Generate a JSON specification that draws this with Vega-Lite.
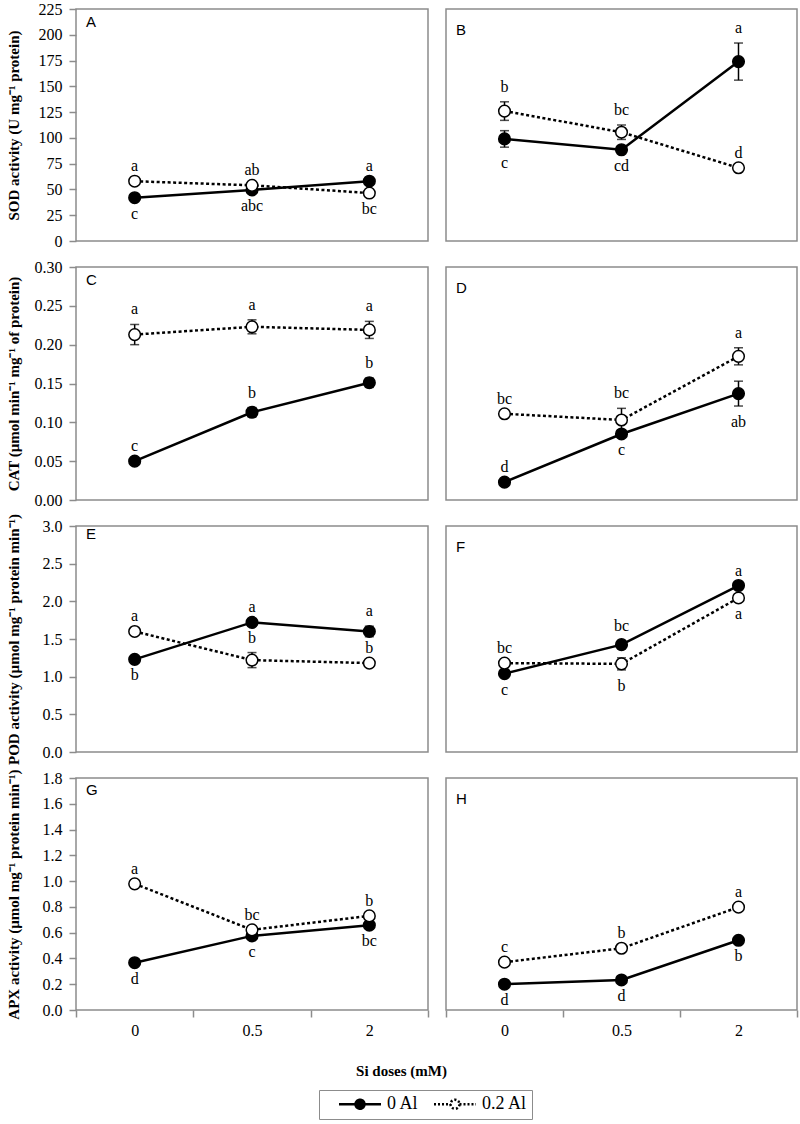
{
"$schema": "https://vega.github.io/schema/vega-lite/v6.json",
"padding": {"left": 5, "top": 0, "right": 4, "bottom": 4},
"bounds": "flush",
"columns": 2,
"spacing": {"row": 26, "column": 18},
"datasets": {"d": [
{"p":"A","si":"0","s":"0 Al","v":42,"lo":42,"hi":42,"lab":"c","pos":"below"},
{"p":"A","si":"0.5","s":"0 Al","v":49.5,"lo":49.5,"hi":49.5,"lab":"abc","pos":"below"},
{"p":"A","si":"2","s":"0 Al","v":58,"lo":58,"hi":58,"lab":"a","pos":"above"},
{"p":"A","si":"0","s":"0.2 Al","v":58,"lo":58,"hi":58,"lab":"a","pos":"above"},
{"p":"A","si":"0.5","s":"0.2 Al","v":54,"lo":54,"hi":54,"lab":"ab","pos":"above"},
{"p":"A","si":"2","s":"0.2 Al","v":46.5,"lo":46.5,"hi":46.5,"lab":"bc","pos":"below"},
{"p":"B","si":"0","s":"0 Al","v":99,"lo":91,"hi":107,"lab":"c","pos":"below"},
{"p":"B","si":"0.5","s":"0 Al","v":88.5,"lo":88.5,"hi":88.5,"lab":"cd","pos":"below"},
{"p":"B","si":"2","s":"0 Al","v":174,"lo":156,"hi":192,"lab":"a","pos":"above"},
{"p":"B","si":"0","s":"0.2 Al","v":126,"lo":117,"hi":135,"lab":"b","pos":"above"},
{"p":"B","si":"0.5","s":"0.2 Al","v":105.5,"lo":98.5,"hi":112.5,"lab":"bc","pos":"above"},
{"p":"B","si":"2","s":"0.2 Al","v":71,"lo":71,"hi":71,"lab":"d","pos":"above"},
{"p":"C","si":"0","s":"0 Al","v":0.05,"lo":0.05,"hi":0.05,"lab":"c","pos":"above"},
{"p":"C","si":"0.5","s":"0 Al","v":0.113,"lo":0.107,"hi":0.119,"lab":"b","pos":"above"},
{"p":"C","si":"2","s":"0 Al","v":0.151,"lo":0.145,"hi":0.157,"lab":"b","pos":"above"},
{"p":"C","si":"0","s":"0.2 Al","v":0.213,"lo":0.2,"hi":0.226,"lab":"a","pos":"above"},
{"p":"C","si":"0.5","s":"0.2 Al","v":0.223,"lo":0.214,"hi":0.232,"lab":"a","pos":"above"},
{"p":"C","si":"2","s":"0.2 Al","v":0.219,"lo":0.208,"hi":0.23,"lab":"a","pos":"above"},
{"p":"D","si":"0","s":"0 Al","v":0.023,"lo":0.023,"hi":0.023,"lab":"d","pos":"above"},
{"p":"D","si":"0.5","s":"0 Al","v":0.085,"lo":0.085,"hi":0.085,"lab":"c","pos":"below"},
{"p":"D","si":"2","s":"0 Al","v":0.137,"lo":0.121,"hi":0.153,"lab":"ab","pos":"below"},
{"p":"D","si":"0","s":"0.2 Al","v":0.111,"lo":0.111,"hi":0.111,"lab":"bc","pos":"above"},
{"p":"D","si":"0.5","s":"0.2 Al","v":0.103,"lo":0.088,"hi":0.118,"lab":"bc","pos":"above"},
{"p":"D","si":"2","s":"0.2 Al","v":0.185,"lo":0.174,"hi":0.196,"lab":"a","pos":"above"},
{"p":"E","si":"0","s":"0 Al","v":1.23,"lo":1.23,"hi":1.23,"lab":"b","pos":"below"},
{"p":"E","si":"0.5","s":"0 Al","v":1.72,"lo":1.72,"hi":1.72,"lab":"a","pos":"above"},
{"p":"E","si":"2","s":"0 Al","v":1.6,"lo":1.53,"hi":1.67,"lab":"a","pos":"above"},
{"p":"E","si":"0","s":"0.2 Al","v":1.6,"lo":1.6,"hi":1.6,"lab":"a","pos":"above"},
{"p":"E","si":"0.5","s":"0.2 Al","v":1.22,"lo":1.12,"hi":1.32,"lab":"b","pos":"above"},
{"p":"E","si":"2","s":"0.2 Al","v":1.18,"lo":1.18,"hi":1.18,"lab":"b","pos":"above"},
{"p":"F","si":"0","s":"0 Al","v":1.04,"lo":1.04,"hi":1.04,"lab":"c","pos":"below"},
{"p":"F","si":"0.5","s":"0 Al","v":1.425,"lo":1.37,"hi":1.48,"lab":"bc","pos":"above"},
{"p":"F","si":"2","s":"0 Al","v":2.21,"lo":2.21,"hi":2.21,"lab":"a","pos":"above"},
{"p":"F","si":"0","s":"0.2 Al","v":1.18,"lo":1.18,"hi":1.18,"lab":"bc","pos":"above"},
{"p":"F","si":"0.5","s":"0.2 Al","v":1.17,"lo":1.09,"hi":1.25,"lab":"b","pos":"below"},
{"p":"F","si":"2","s":"0.2 Al","v":2.045,"lo":2.045,"hi":2.045,"lab":"a","pos":"below"},
{"p":"G","si":"0","s":"0 Al","v":0.367,"lo":0.367,"hi":0.367,"lab":"d","pos":"below"},
{"p":"G","si":"0.5","s":"0 Al","v":0.575,"lo":0.575,"hi":0.575,"lab":"c","pos":"below"},
{"p":"G","si":"2","s":"0 Al","v":0.658,"lo":0.658,"hi":0.658,"lab":"bc","pos":"below"},
{"p":"G","si":"0","s":"0.2 Al","v":0.979,"lo":0.979,"hi":0.979,"lab":"a","pos":"above"},
{"p":"G","si":"0.5","s":"0.2 Al","v":0.622,"lo":0.622,"hi":0.622,"lab":"bc","pos":"above"},
{"p":"G","si":"2","s":"0.2 Al","v":0.73,"lo":0.73,"hi":0.73,"lab":"b","pos":"above"},
{"p":"H","si":"0","s":"0 Al","v":0.2,"lo":0.2,"hi":0.2,"lab":"d","pos":"below"},
{"p":"H","si":"0.5","s":"0 Al","v":0.233,"lo":0.233,"hi":0.233,"lab":"d","pos":"below"},
{"p":"H","si":"2","s":"0 Al","v":0.541,"lo":0.541,"hi":0.541,"lab":"b","pos":"below"},
{"p":"H","si":"0","s":"0.2 Al","v":0.371,"lo":0.371,"hi":0.371,"lab":"c","pos":"above"},
{"p":"H","si":"0.5","s":"0.2 Al","v":0.479,"lo":0.479,"hi":0.479,"lab":"b","pos":"above"},
{"p":"H","si":"2","s":"0.2 Al","v":0.798,"lo":0.798,"hi":0.798,"lab":"a","pos":"above"}
]},
"concat": [
{"width": 352, "height": 232, "title": "A", "data": {"name": "d"}, "transform": [{"filter": "datum.p === 'A'"}],
 "encoding": {"x": {"field": "si", "type": "ordinal", "sort": ["0","0.5","2"], "scale": {"type": "band", "paddingInner": 0, "paddingOuter": 0}, "axis": null}},
 "layer": [
  {"transform": [{"filter": "datum.s === '0 Al'"}], "mark": {"type": "line", "color": "black", "strokeWidth": 2.5}, "encoding": {"y": {"field": "v", "type": "quantitative", "scale": {"domain": [0,225]}, "axis": {"title": "SOD activity (U mg⁻¹ protein)", "values": [0,25,50,75,100,125,150,175,200,225], "titleX": -63, "titleBaseline": "middle"}}}},
  {"transform": [{"filter": "datum.s === '0.2 Al'"}], "mark": {"type": "line", "color": "black", "strokeWidth": 2.5, "strokeDash": [3,2.5]}, "encoding": {"y": {"field": "v", "type": "quantitative", "scale": {"domain": [0,225]}, "axis": {"title": "SOD activity (U mg⁻¹ protein)", "values": [0,25,50,75,100,125,150,175,200,225], "titleX": -63, "titleBaseline": "middle"}}}},
  {"transform": [{"filter": "datum.hi > datum.lo"}], "mark": {"type": "errorbar", "color": "black", "thickness": 1.5, "ticks": {"size": 9, "thickness": 1.5}}, "encoding": {"y": {"field": "lo", "type": "quantitative", "scale": {"domain": [0,225]}, "axis": {"title": "SOD activity (U mg⁻¹ protein)", "values": [0,25,50,75,100,125,150,175,200,225], "titleX": -63, "titleBaseline": "middle"}}, "y2": {"field": "hi"}}},
  {"mark": {"type": "point", "filled": true, "size": 135, "stroke": "black", "strokeWidth": 1.5, "opacity": 1}, "encoding": {"y": {"field": "v", "type": "quantitative", "scale": {"domain": [0,225]}, "axis": {"title": "SOD activity (U mg⁻¹ protein)", "values": [0,25,50,75,100,125,150,175,200,225], "titleX": -63, "titleBaseline": "middle"}}, "fill": {"field": "s", "type": "nominal", "scale": {"domain": ["0 Al","0.2 Al"], "range": ["black","white"]}, "legend": {"title": null, "encode": {"symbols": {"update": {"strokeDash": {"signal": "datum.value === '0.2 Al' ? [2,2] : [1,0]"}, "stroke": {"value": "black"}, "strokeWidth": {"value": 2.5}, "size": {"value": 100}, "opacity": {"value": 1}}}}}}}},
  {"transform": [{"filter": "datum.pos === 'above'"}], "mark": {"type": "text", "fontSize": 16, "dy": -10, "baseline": "alphabetic", "color": "black"}, "encoding": {"y": {"field": "hi", "type": "quantitative", "scale": {"domain": [0,225]}, "axis": {"title": "SOD activity (U mg⁻¹ protein)", "values": [0,25,50,75,100,125,150,175,200,225], "titleX": -63, "titleBaseline": "middle"}}, "text": {"field": "lab"}}},
  {"transform": [{"filter": "datum.pos === 'below'"}], "mark": {"type": "text", "fontSize": 16, "dy": 21, "baseline": "alphabetic", "color": "black"}, "encoding": {"y": {"field": "lo", "type": "quantitative", "scale": {"domain": [0,225]}, "axis": {"title": "SOD activity (U mg⁻¹ protein)", "values": [0,25,50,75,100,125,150,175,200,225], "titleX": -63, "titleBaseline": "middle"}}, "text": {"field": "lab"}}}
 ]},
{"width": 351, "height": 232, "title": "B", "data": {"name": "d"}, "transform": [{"filter": "datum.p === 'B'"}],
 "encoding": {"x": {"field": "si", "type": "ordinal", "sort": ["0","0.5","2"], "scale": {"type": "band", "paddingInner": 0, "paddingOuter": 0}, "axis": null}},
 "layer": [
  {"transform": [{"filter": "datum.s === '0 Al'"}], "mark": {"type": "line", "color": "black", "strokeWidth": 2.5}, "encoding": {"y": {"field": "v", "type": "quantitative", "scale": {"domain": [0,225]}, "axis": null}}},
  {"transform": [{"filter": "datum.s === '0.2 Al'"}], "mark": {"type": "line", "color": "black", "strokeWidth": 2.5, "strokeDash": [3,2.5]}, "encoding": {"y": {"field": "v", "type": "quantitative", "scale": {"domain": [0,225]}, "axis": null}}},
  {"transform": [{"filter": "datum.hi > datum.lo"}], "mark": {"type": "errorbar", "color": "black", "thickness": 1.5, "ticks": {"size": 9, "thickness": 1.5}}, "encoding": {"y": {"field": "lo", "type": "quantitative", "scale": {"domain": [0,225]}, "axis": null}, "y2": {"field": "hi"}}},
  {"mark": {"type": "point", "filled": true, "size": 135, "stroke": "black", "strokeWidth": 1.5, "opacity": 1}, "encoding": {"y": {"field": "v", "type": "quantitative", "scale": {"domain": [0,225]}, "axis": null}, "fill": {"field": "s", "type": "nominal", "scale": {"domain": ["0 Al","0.2 Al"], "range": ["black","white"]}, "legend": {"title": null, "encode": {"symbols": {"update": {"strokeDash": {"signal": "datum.value === '0.2 Al' ? [2,2] : [1,0]"}, "stroke": {"value": "black"}, "strokeWidth": {"value": 2.5}, "size": {"value": 100}, "opacity": {"value": 1}}}}}}}},
  {"transform": [{"filter": "datum.pos === 'above'"}], "mark": {"type": "text", "fontSize": 16, "dy": -10, "baseline": "alphabetic", "color": "black"}, "encoding": {"y": {"field": "hi", "type": "quantitative", "scale": {"domain": [0,225]}, "axis": null}, "text": {"field": "lab"}}},
  {"transform": [{"filter": "datum.pos === 'below'"}], "mark": {"type": "text", "fontSize": 16, "dy": 21, "baseline": "alphabetic", "color": "black"}, "encoding": {"y": {"field": "lo", "type": "quantitative", "scale": {"domain": [0,225]}, "axis": null}, "text": {"field": "lab"}}}
 ]},
{"width": 352, "height": 233, "title": "C", "data": {"name": "d"}, "transform": [{"filter": "datum.p === 'C'"}],
 "encoding": {"x": {"field": "si", "type": "ordinal", "sort": ["0","0.5","2"], "scale": {"type": "band", "paddingInner": 0, "paddingOuter": 0}, "axis": null}},
 "layer": [
  {"transform": [{"filter": "datum.s === '0 Al'"}], "mark": {"type": "line", "color": "black", "strokeWidth": 2.5}, "encoding": {"y": {"field": "v", "type": "quantitative", "scale": {"domain": [0,0.3]}, "axis": {"title": "CAT (µmol min⁻¹ mg⁻¹ of protein)", "values": [0,0.05,0.1,0.15,0.2,0.25,0.3], "format": ".2f", "titleX": -63, "titleBaseline": "middle"}}}},
  {"transform": [{"filter": "datum.s === '0.2 Al'"}], "mark": {"type": "line", "color": "black", "strokeWidth": 2.5, "strokeDash": [3,2.5]}, "encoding": {"y": {"field": "v", "type": "quantitative", "scale": {"domain": [0,0.3]}, "axis": {"title": "CAT (µmol min⁻¹ mg⁻¹ of protein)", "values": [0,0.05,0.1,0.15,0.2,0.25,0.3], "format": ".2f", "titleX": -63, "titleBaseline": "middle"}}}},
  {"transform": [{"filter": "datum.hi > datum.lo"}], "mark": {"type": "errorbar", "color": "black", "thickness": 1.5, "ticks": {"size": 9, "thickness": 1.5}}, "encoding": {"y": {"field": "lo", "type": "quantitative", "scale": {"domain": [0,0.3]}, "axis": {"title": "CAT (µmol min⁻¹ mg⁻¹ of protein)", "values": [0,0.05,0.1,0.15,0.2,0.25,0.3], "format": ".2f", "titleX": -63, "titleBaseline": "middle"}}, "y2": {"field": "hi"}}},
  {"mark": {"type": "point", "filled": true, "size": 135, "stroke": "black", "strokeWidth": 1.5, "opacity": 1}, "encoding": {"y": {"field": "v", "type": "quantitative", "scale": {"domain": [0,0.3]}, "axis": {"title": "CAT (µmol min⁻¹ mg⁻¹ of protein)", "values": [0,0.05,0.1,0.15,0.2,0.25,0.3], "format": ".2f", "titleX": -63, "titleBaseline": "middle"}}, "fill": {"field": "s", "type": "nominal", "scale": {"domain": ["0 Al","0.2 Al"], "range": ["black","white"]}, "legend": {"title": null, "encode": {"symbols": {"update": {"strokeDash": {"signal": "datum.value === '0.2 Al' ? [2,2] : [1,0]"}, "stroke": {"value": "black"}, "strokeWidth": {"value": 2.5}, "size": {"value": 100}, "opacity": {"value": 1}}}}}}}},
  {"transform": [{"filter": "datum.pos === 'above'"}], "mark": {"type": "text", "fontSize": 16, "dy": -10, "baseline": "alphabetic", "color": "black"}, "encoding": {"y": {"field": "hi", "type": "quantitative", "scale": {"domain": [0,0.3]}, "axis": {"title": "CAT (µmol min⁻¹ mg⁻¹ of protein)", "values": [0,0.05,0.1,0.15,0.2,0.25,0.3], "format": ".2f", "titleX": -63, "titleBaseline": "middle"}}, "text": {"field": "lab"}}},
  {"transform": [{"filter": "datum.pos === 'below'"}], "mark": {"type": "text", "fontSize": 16, "dy": 21, "baseline": "alphabetic", "color": "black"}, "encoding": {"y": {"field": "lo", "type": "quantitative", "scale": {"domain": [0,0.3]}, "axis": {"title": "CAT (µmol min⁻¹ mg⁻¹ of protein)", "values": [0,0.05,0.1,0.15,0.2,0.25,0.3], "format": ".2f", "titleX": -63, "titleBaseline": "middle"}}, "text": {"field": "lab"}}}
 ]},
{"width": 351, "height": 233, "title": "D", "data": {"name": "d"}, "transform": [{"filter": "datum.p === 'D'"}],
 "encoding": {"x": {"field": "si", "type": "ordinal", "sort": ["0","0.5","2"], "scale": {"type": "band", "paddingInner": 0, "paddingOuter": 0}, "axis": null}},
 "layer": [
  {"transform": [{"filter": "datum.s === '0 Al'"}], "mark": {"type": "line", "color": "black", "strokeWidth": 2.5}, "encoding": {"y": {"field": "v", "type": "quantitative", "scale": {"domain": [0,0.3]}, "axis": null}}},
  {"transform": [{"filter": "datum.s === '0.2 Al'"}], "mark": {"type": "line", "color": "black", "strokeWidth": 2.5, "strokeDash": [3,2.5]}, "encoding": {"y": {"field": "v", "type": "quantitative", "scale": {"domain": [0,0.3]}, "axis": null}}},
  {"transform": [{"filter": "datum.hi > datum.lo"}], "mark": {"type": "errorbar", "color": "black", "thickness": 1.5, "ticks": {"size": 9, "thickness": 1.5}}, "encoding": {"y": {"field": "lo", "type": "quantitative", "scale": {"domain": [0,0.3]}, "axis": null}, "y2": {"field": "hi"}}},
  {"mark": {"type": "point", "filled": true, "size": 135, "stroke": "black", "strokeWidth": 1.5, "opacity": 1}, "encoding": {"y": {"field": "v", "type": "quantitative", "scale": {"domain": [0,0.3]}, "axis": null}, "fill": {"field": "s", "type": "nominal", "scale": {"domain": ["0 Al","0.2 Al"], "range": ["black","white"]}, "legend": {"title": null, "encode": {"symbols": {"update": {"strokeDash": {"signal": "datum.value === '0.2 Al' ? [2,2] : [1,0]"}, "stroke": {"value": "black"}, "strokeWidth": {"value": 2.5}, "size": {"value": 100}, "opacity": {"value": 1}}}}}}}},
  {"transform": [{"filter": "datum.pos === 'above'"}], "mark": {"type": "text", "fontSize": 16, "dy": -10, "baseline": "alphabetic", "color": "black"}, "encoding": {"y": {"field": "hi", "type": "quantitative", "scale": {"domain": [0,0.3]}, "axis": null}, "text": {"field": "lab"}}},
  {"transform": [{"filter": "datum.pos === 'below'"}], "mark": {"type": "text", "fontSize": 16, "dy": 21, "baseline": "alphabetic", "color": "black"}, "encoding": {"y": {"field": "lo", "type": "quantitative", "scale": {"domain": [0,0.3]}, "axis": null}, "text": {"field": "lab"}}}
 ]},
{"width": 352, "height": 226, "title": "E", "data": {"name": "d"}, "transform": [{"filter": "datum.p === 'E'"}],
 "encoding": {"x": {"field": "si", "type": "ordinal", "sort": ["0","0.5","2"], "scale": {"type": "band", "paddingInner": 0, "paddingOuter": 0}, "axis": null}},
 "layer": [
  {"transform": [{"filter": "datum.s === '0 Al'"}], "mark": {"type": "line", "color": "black", "strokeWidth": 2.5}, "encoding": {"y": {"field": "v", "type": "quantitative", "scale": {"domain": [0,3]}, "axis": {"title": "POD activity (µmol mg⁻¹ protein min⁻¹)", "values": [0,0.5,1,1.5,2,2.5,3], "format": ".1f", "titleX": -63, "titleBaseline": "middle"}}}},
  {"transform": [{"filter": "datum.s === '0.2 Al'"}], "mark": {"type": "line", "color": "black", "strokeWidth": 2.5, "strokeDash": [3,2.5]}, "encoding": {"y": {"field": "v", "type": "quantitative", "scale": {"domain": [0,3]}, "axis": {"title": "POD activity (µmol mg⁻¹ protein min⁻¹)", "values": [0,0.5,1,1.5,2,2.5,3], "format": ".1f", "titleX": -63, "titleBaseline": "middle"}}}},
  {"transform": [{"filter": "datum.hi > datum.lo"}], "mark": {"type": "errorbar", "color": "black", "thickness": 1.5, "ticks": {"size": 9, "thickness": 1.5}}, "encoding": {"y": {"field": "lo", "type": "quantitative", "scale": {"domain": [0,3]}, "axis": {"title": "POD activity (µmol mg⁻¹ protein min⁻¹)", "values": [0,0.5,1,1.5,2,2.5,3], "format": ".1f", "titleX": -63, "titleBaseline": "middle"}}, "y2": {"field": "hi"}}},
  {"mark": {"type": "point", "filled": true, "size": 135, "stroke": "black", "strokeWidth": 1.5, "opacity": 1}, "encoding": {"y": {"field": "v", "type": "quantitative", "scale": {"domain": [0,3]}, "axis": {"title": "POD activity (µmol mg⁻¹ protein min⁻¹)", "values": [0,0.5,1,1.5,2,2.5,3], "format": ".1f", "titleX": -63, "titleBaseline": "middle"}}, "fill": {"field": "s", "type": "nominal", "scale": {"domain": ["0 Al","0.2 Al"], "range": ["black","white"]}, "legend": {"title": null, "encode": {"symbols": {"update": {"strokeDash": {"signal": "datum.value === '0.2 Al' ? [2,2] : [1,0]"}, "stroke": {"value": "black"}, "strokeWidth": {"value": 2.5}, "size": {"value": 100}, "opacity": {"value": 1}}}}}}}},
  {"transform": [{"filter": "datum.pos === 'above'"}], "mark": {"type": "text", "fontSize": 16, "dy": -10, "baseline": "alphabetic", "color": "black"}, "encoding": {"y": {"field": "hi", "type": "quantitative", "scale": {"domain": [0,3]}, "axis": {"title": "POD activity (µmol mg⁻¹ protein min⁻¹)", "values": [0,0.5,1,1.5,2,2.5,3], "format": ".1f", "titleX": -63, "titleBaseline": "middle"}}, "text": {"field": "lab"}}},
  {"transform": [{"filter": "datum.pos === 'below'"}], "mark": {"type": "text", "fontSize": 16, "dy": 21, "baseline": "alphabetic", "color": "black"}, "encoding": {"y": {"field": "lo", "type": "quantitative", "scale": {"domain": [0,3]}, "axis": {"title": "POD activity (µmol mg⁻¹ protein min⁻¹)", "values": [0,0.5,1,1.5,2,2.5,3], "format": ".1f", "titleX": -63, "titleBaseline": "middle"}}, "text": {"field": "lab"}}}
 ]},
{"width": 351, "height": 226, "title": "F", "data": {"name": "d"}, "transform": [{"filter": "datum.p === 'F'"}],
 "encoding": {"x": {"field": "si", "type": "ordinal", "sort": ["0","0.5","2"], "scale": {"type": "band", "paddingInner": 0, "paddingOuter": 0}, "axis": null}},
 "layer": [
  {"transform": [{"filter": "datum.s === '0 Al'"}], "mark": {"type": "line", "color": "black", "strokeWidth": 2.5}, "encoding": {"y": {"field": "v", "type": "quantitative", "scale": {"domain": [0,3]}, "axis": null}}},
  {"transform": [{"filter": "datum.s === '0.2 Al'"}], "mark": {"type": "line", "color": "black", "strokeWidth": 2.5, "strokeDash": [3,2.5]}, "encoding": {"y": {"field": "v", "type": "quantitative", "scale": {"domain": [0,3]}, "axis": null}}},
  {"transform": [{"filter": "datum.hi > datum.lo"}], "mark": {"type": "errorbar", "color": "black", "thickness": 1.5, "ticks": {"size": 9, "thickness": 1.5}}, "encoding": {"y": {"field": "lo", "type": "quantitative", "scale": {"domain": [0,3]}, "axis": null}, "y2": {"field": "hi"}}},
  {"mark": {"type": "point", "filled": true, "size": 135, "stroke": "black", "strokeWidth": 1.5, "opacity": 1}, "encoding": {"y": {"field": "v", "type": "quantitative", "scale": {"domain": [0,3]}, "axis": null}, "fill": {"field": "s", "type": "nominal", "scale": {"domain": ["0 Al","0.2 Al"], "range": ["black","white"]}, "legend": {"title": null, "encode": {"symbols": {"update": {"strokeDash": {"signal": "datum.value === '0.2 Al' ? [2,2] : [1,0]"}, "stroke": {"value": "black"}, "strokeWidth": {"value": 2.5}, "size": {"value": 100}, "opacity": {"value": 1}}}}}}}},
  {"transform": [{"filter": "datum.pos === 'above'"}], "mark": {"type": "text", "fontSize": 16, "dy": -10, "baseline": "alphabetic", "color": "black"}, "encoding": {"y": {"field": "hi", "type": "quantitative", "scale": {"domain": [0,3]}, "axis": null}, "text": {"field": "lab"}}},
  {"transform": [{"filter": "datum.pos === 'below'"}], "mark": {"type": "text", "fontSize": 16, "dy": 21, "baseline": "alphabetic", "color": "black"}, "encoding": {"y": {"field": "lo", "type": "quantitative", "scale": {"domain": [0,3]}, "axis": null}, "text": {"field": "lab"}}}
 ]},
{"width": 352, "height": 232, "title": "G", "data": {"name": "d"}, "transform": [{"filter": "datum.p === 'G'"}],
 "encoding": {"x": {"field": "si", "type": "ordinal", "sort": ["0","0.5","2"], "scale": {"type": "band", "paddingInner": 0, "paddingOuter": 0}, "axis": {"title": "Si doses (mM)", "titleX": 325, "titleY": 60, "titleBaseline": "middle", "tickBand": "extent", "labelAngle": 0, "labelPadding": 5}}},
 "layer": [
  {"transform": [{"filter": "datum.s === '0 Al'"}], "mark": {"type": "line", "color": "black", "strokeWidth": 2.5}, "encoding": {"y": {"field": "v", "type": "quantitative", "scale": {"domain": [0,1.8]}, "axis": {"title": "APX activity (µmol mg⁻¹ protein min⁻¹)", "values": [0,0.2,0.4,0.6,0.8,1,1.2,1.4,1.6,1.8], "format": ".1f", "titleX": -63, "titleBaseline": "middle"}}}},
  {"transform": [{"filter": "datum.s === '0.2 Al'"}], "mark": {"type": "line", "color": "black", "strokeWidth": 2.5, "strokeDash": [3,2.5]}, "encoding": {"y": {"field": "v", "type": "quantitative", "scale": {"domain": [0,1.8]}, "axis": {"title": "APX activity (µmol mg⁻¹ protein min⁻¹)", "values": [0,0.2,0.4,0.6,0.8,1,1.2,1.4,1.6,1.8], "format": ".1f", "titleX": -63, "titleBaseline": "middle"}}}},
  {"transform": [{"filter": "datum.hi > datum.lo"}], "mark": {"type": "errorbar", "color": "black", "thickness": 1.5, "ticks": {"size": 9, "thickness": 1.5}}, "encoding": {"y": {"field": "lo", "type": "quantitative", "scale": {"domain": [0,1.8]}, "axis": {"title": "APX activity (µmol mg⁻¹ protein min⁻¹)", "values": [0,0.2,0.4,0.6,0.8,1,1.2,1.4,1.6,1.8], "format": ".1f", "titleX": -63, "titleBaseline": "middle"}}, "y2": {"field": "hi"}}},
  {"mark": {"type": "point", "filled": true, "size": 135, "stroke": "black", "strokeWidth": 1.5, "opacity": 1}, "encoding": {"y": {"field": "v", "type": "quantitative", "scale": {"domain": [0,1.8]}, "axis": {"title": "APX activity (µmol mg⁻¹ protein min⁻¹)", "values": [0,0.2,0.4,0.6,0.8,1,1.2,1.4,1.6,1.8], "format": ".1f", "titleX": -63, "titleBaseline": "middle"}}, "fill": {"field": "s", "type": "nominal", "scale": {"domain": ["0 Al","0.2 Al"], "range": ["black","white"]}, "legend": {"title": null, "encode": {"symbols": {"update": {"strokeDash": {"signal": "datum.value === '0.2 Al' ? [2,2] : [1,0]"}, "stroke": {"value": "black"}, "strokeWidth": {"value": 2.5}, "size": {"value": 100}, "opacity": {"value": 1}}}}}}}},
  {"transform": [{"filter": "datum.pos === 'above'"}], "mark": {"type": "text", "fontSize": 16, "dy": -10, "baseline": "alphabetic", "color": "black"}, "encoding": {"y": {"field": "hi", "type": "quantitative", "scale": {"domain": [0,1.8]}, "axis": {"title": "APX activity (µmol mg⁻¹ protein min⁻¹)", "values": [0,0.2,0.4,0.6,0.8,1,1.2,1.4,1.6,1.8], "format": ".1f", "titleX": -63, "titleBaseline": "middle"}}, "text": {"field": "lab"}}},
  {"transform": [{"filter": "datum.pos === 'below'"}], "mark": {"type": "text", "fontSize": 16, "dy": 21, "baseline": "alphabetic", "color": "black"}, "encoding": {"y": {"field": "lo", "type": "quantitative", "scale": {"domain": [0,1.8]}, "axis": {"title": "APX activity (µmol mg⁻¹ protein min⁻¹)", "values": [0,0.2,0.4,0.6,0.8,1,1.2,1.4,1.6,1.8], "format": ".1f", "titleX": -63, "titleBaseline": "middle"}}, "text": {"field": "lab"}}}
 ]},
{"width": 351, "height": 232, "title": "H", "data": {"name": "d"}, "transform": [{"filter": "datum.p === 'H'"}],
 "encoding": {"x": {"field": "si", "type": "ordinal", "sort": ["0","0.5","2"], "scale": {"type": "band", "paddingInner": 0, "paddingOuter": 0}, "axis": {"title": null, "tickBand": "extent", "labelAngle": 0, "labelPadding": 5}}},
 "layer": [
  {"transform": [{"filter": "datum.s === '0 Al'"}], "mark": {"type": "line", "color": "black", "strokeWidth": 2.5}, "encoding": {"y": {"field": "v", "type": "quantitative", "scale": {"domain": [0,1.8]}, "axis": null}}},
  {"transform": [{"filter": "datum.s === '0.2 Al'"}], "mark": {"type": "line", "color": "black", "strokeWidth": 2.5, "strokeDash": [3,2.5]}, "encoding": {"y": {"field": "v", "type": "quantitative", "scale": {"domain": [0,1.8]}, "axis": null}}},
  {"transform": [{"filter": "datum.hi > datum.lo"}], "mark": {"type": "errorbar", "color": "black", "thickness": 1.5, "ticks": {"size": 9, "thickness": 1.5}}, "encoding": {"y": {"field": "lo", "type": "quantitative", "scale": {"domain": [0,1.8]}, "axis": null}, "y2": {"field": "hi"}}},
  {"mark": {"type": "point", "filled": true, "size": 135, "stroke": "black", "strokeWidth": 1.5, "opacity": 1}, "encoding": {"y": {"field": "v", "type": "quantitative", "scale": {"domain": [0,1.8]}, "axis": null}, "fill": {"field": "s", "type": "nominal", "scale": {"domain": ["0 Al","0.2 Al"], "range": ["black","white"]}, "legend": {"title": null, "encode": {"symbols": {"update": {"strokeDash": {"signal": "datum.value === '0.2 Al' ? [2,2] : [1,0]"}, "stroke": {"value": "black"}, "strokeWidth": {"value": 2.5}, "size": {"value": 100}, "opacity": {"value": 1}}}}}}}},
  {"transform": [{"filter": "datum.pos === 'above'"}], "mark": {"type": "text", "fontSize": 16, "dy": -10, "baseline": "alphabetic", "color": "black"}, "encoding": {"y": {"field": "hi", "type": "quantitative", "scale": {"domain": [0,1.8]}, "axis": null}, "text": {"field": "lab"}}},
  {"transform": [{"filter": "datum.pos === 'below'"}], "mark": {"type": "text", "fontSize": 16, "dy": 21, "baseline": "alphabetic", "color": "black"}, "encoding": {"y": {"field": "lo", "type": "quantitative", "scale": {"domain": [0,1.8]}, "axis": null}, "text": {"field": "lab"}}}
 ]}
],
"config": {
 "font": "Liberation Serif",
 "background": "white",
 "view": {"stroke": "#8c8c8c", "strokeWidth": 1.5},
 "axis": {"grid": false, "domain": false, "labelFont": "Liberation Serif", "labelFontSize": 16, "labelColor": "black", "tickColor": "#8c8c8c", "tickWidth": 1.5, "tickSize": 7, "labelPadding": 7, "titleFont": "Liberation Serif", "titleFontSize": 15, "titleFontWeight": "bold", "titleColor": "black"},
 "legend": {"orient": "none", "legendX": 243, "legendY": 1081, "direction": "horizontal", "strokeColor": "#8c8c8c", "padding": 5, "fillColor": "white", "symbolType": "M1.2,0H4.5M6.3,0H9.6M6.3,0A0.9,0.9,0,1,1,4.5,0A0.9,0.9,0,1,1,6.3,0Z", "symbolSize": 100, "symbolStrokeColor": "black", "symbolStrokeWidth": 2.5, "symbolOpacity": 1, "labelFont": "Liberation Serif", "labelFontSize": 18, "labelColor": "black", "labelOffset": 45, "columnPadding": 0},
 "title": {"anchor": "start", "frame": "group", "offset": -29, "dx": 10, "font": "Liberation Sans", "fontSize": 15, "fontWeight": "normal", "color": "black", "baseline": "bottom"},
 "text": {"font": "Liberation Serif"}
}
}
